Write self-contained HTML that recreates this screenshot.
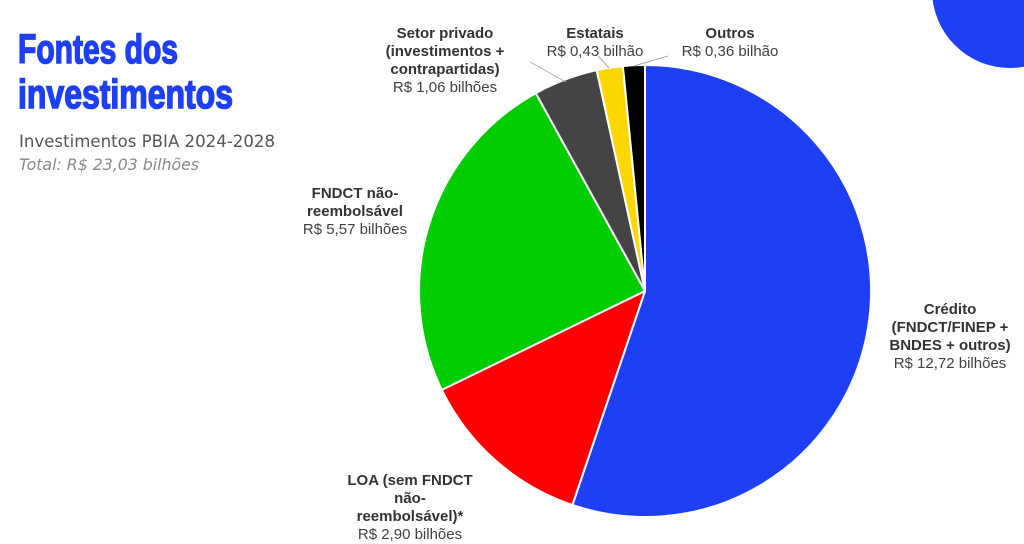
<!DOCTYPE html>
<html><head><meta charset="utf-8"><style>
body{margin:0;background:#fff;width:1024px;height:542px;overflow:hidden;position:relative;font-family:"Liberation Sans",sans-serif}
.l{position:absolute;text-align:center;font-size:15px;line-height:18px;color:#404040}
.l b{color:#333}
</style></head><body>
<svg width="1024" height="542" style="position:absolute;left:0;top:0">
<circle cx="1010" cy="-10" r="78" fill="#1f3ff5"/>
<text x="18" y="63" font-family="Liberation Sans" font-weight="bold" font-size="41" fill="#1f3ff5" stroke="#1f3ff5" stroke-width="1.6" textLength="160" lengthAdjust="spacingAndGlyphs">Fontes dos</text>
<text x="18" y="108" font-family="Liberation Sans" font-weight="bold" font-size="41" fill="#1f3ff5" stroke="#1f3ff5" stroke-width="1.6" textLength="215" lengthAdjust="spacingAndGlyphs">investimentos</text>
<text x="19" y="147" font-family="DejaVu Sans" font-size="17" fill="#555" textLength="256" lengthAdjust="spacingAndGlyphs">Investimentos PBIA 2024-2028</text>
<text x="19" y="170" font-family="DejaVu Sans" font-style="italic" font-size="16" fill="#888" textLength="180" lengthAdjust="spacingAndGlyphs">Total: R$ 23,03 bilhões</text>
<g stroke="#fff" stroke-width="2" stroke-linejoin="round">
<path d="M645,291 L645,65 A226,226 0 1,1 572.4,505 Z" fill="#1f3ff5"/>
<path d="M645,291 L572.4,505 A226,226 0 0,1 441.8,389.9 Z" fill="#ff0000"/>
<path d="M645,291 L441.8,389.9 A226,226 0 0,1 535.8,93.2 Z" fill="#00cc00"/>
<path d="M645,291 L535.8,93.2 A226,226 0 0,1 596.7,70.2 Z" fill="#444444"/>
<path d="M645,291 L596.7,70.2 A226,226 0 0,1 622.9,66.1 Z" fill="#ffd700"/>
<path d="M645,291 L622.9,66.1 A226,226 0 0,1 645,65 Z" fill="#000"/>
</g>
<g stroke="#aaa" stroke-width="1">
<line x1="530" y1="62" x2="566" y2="82"/>
<line x1="598" y1="56" x2="609" y2="68"/>
<line x1="668" y1="56" x2="634" y2="66"/>
</g>
</svg>
<div class="l" style="left:360px;top:25px;width:170px"><b>Setor privado<br>(investimentos +<br>contrapartidas)</b><br>R$ 1,06 bilhões</div>
<div class="l" style="left:535px;top:25px;width:120px"><b>Estatais</b><br>R$ 0,43 bilhão</div>
<div class="l" style="left:670px;top:25px;width:120px"><b>Outros</b><br>R$ 0,36 bilhão</div>
<div class="l" style="left:290px;top:185px;width:130px"><b>FNDCT não-<br>reembolsável</b><br>R$ 5,57 bilhões</div>
<div class="l" style="left:870px;top:301px;width:160px"><b>Crédito<br>(FNDCT/FINEP +<br>BNDES + outros)</b><br>R$ 12,72 bilhões</div>
<div class="l" style="left:340px;top:472px;width:140px"><b>LOA (sem FNDCT<br>não-<br>reembolsável)*</b><br>R$ 2,90 bilhões</div>
</body></html>
